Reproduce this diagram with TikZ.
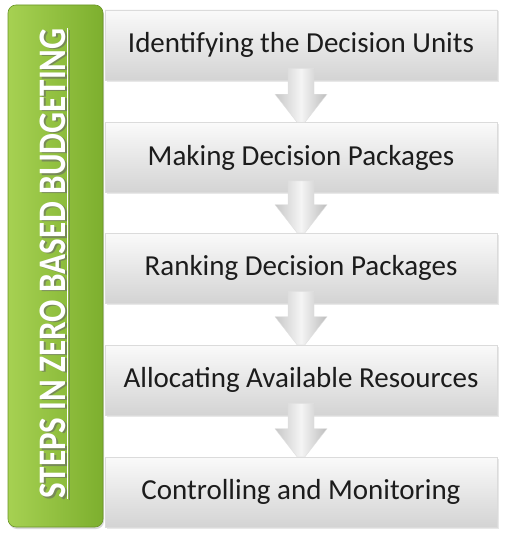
\documentclass[tikz,border=0pt]{standalone}
\usepackage{fontspec}
\setmainfont{Carlito}
\usetikzlibrary{calc,shadows}
\definecolor{glight}{HTML}{A6D152}
\definecolor{gdark}{HTML}{7DAF2E}
\definecolor{txt}{HTML}{1C1C1C}
\tikzset{
  stepbox/.style={rectangle, minimum width=392pt, minimum height=70pt, inner sep=0pt,
    top color=white!98!black, bottom color=white!83!black, draw=black!14, line width=0.6pt,
    drop shadow={shadow xshift=1.5pt, shadow yshift=-1.5pt, opacity=0.18},
    font=\fontsize{29}{31}\selectfont, text=txt},
  downarrow/.style={left color=black!22, right color=black!26, middle color=white!96!black,
    draw=black!12, line width=0.4pt},
  titlebar/.style={rectangle, rounded corners=8pt, minimum width=95pt, minimum height=522pt,
    inner sep=0pt, left color=glight, right color=gdark, draw=gdark!85!black, line width=0.6pt,
    drop shadow={shadow xshift=1pt, shadow yshift=-2pt, opacity=0.3}},
  titletext/.style={rotate=90, text=white, font=\bfseries\fontsize{33}{35}\selectfont, inner sep=0pt}
}
\begin{document}
\begin{tikzpicture}[x=1pt,y=-1pt]
\useasboundingbox (0,0) rectangle (506,543);
\fill[white] (0,0) rectangle (506,543);
% title bar
\node[titlebar] (bar) at (55.5,266) {};
\node[titletext, text=black!60, opacity=0.6] (tshadow) at (56,265) {\scalebox{1}[1.18]{\underline{STEPS IN ZERO BASED BUDGETING}}};
\node[titletext] (title) at (54,263.5) {\scalebox{1}[1.18]{\underline{STEPS IN ZERO BASED BUDGETING}}};
% step boxes
\node[stepbox] (b1) at (301,45) {Identifying the Decision Units};
\node[stepbox] (b2) at (301,157.5) {Making Decision Packages};
\node[stepbox] (b3) at (301,268) {Ranking Decision Packages};
\node[stepbox] (b4) at (301,380) {Allocating Available Resources};
\node[stepbox] (b5) at (301,492) {Controlling and Monitoring};
% arrows
\foreach \a/\b in {b1/b2,b2/b3,b3/b4,b4/b5}{
  \draw[downarrow]
    ($(\a.south)+(-4,-12)$) -- ($(\a.south)+(-13,-12)$) -- ($(\b.north)+(-13,-28)$) --
    ($(\b.north)+(-26,-28)$) -- ($(\b.north)+(-4,0)$) -- ($(\b.north)+(4,0)$) --
    ($(\b.north)+(26,-28)$) -- ($(\b.north)+(13,-28)$) -- ($(\a.south)+(13,-12)$) --
    ($(\a.south)+(4,-12)$) -- cycle;
}
\end{tikzpicture}
\end{document}
